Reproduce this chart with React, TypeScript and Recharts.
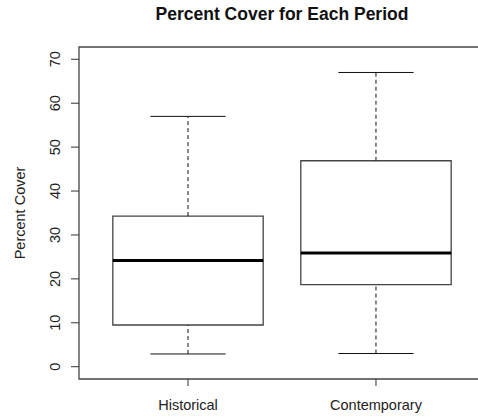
import { ComposedChart, XAxis, YAxis, Scatter, ReferenceArea, ReferenceLine, Label } from 'recharts'

const categories = ['Historical', 'Contemporary']
const whiskerLow = [2.9, 3.0]
const q1 = [9.5, 18.7]
const median = [24.2, 25.9]
const q3 = [34.3, 46.9]
const whiskerHigh = [57.0, 67.0]
const yTicks = [0, 10, 20, 30, 40, 50, 60, 70]

const FONT = '"Liberation Sans", Arial, sans-serif'
const BOX_HALF = 0.4
const CAP_HALF = 0.2

const anchors = categories.map((name, i) => ({ x: i + 1, y: median[i], name }))

const YTick = (props: any) => {
  const { x, y, payload } = props
  const bx = x - 9
  return (
    <text
      x={bx}
      y={y}
      transform={`rotate(-90 ${bx} ${y})`}
      textAnchor="middle"
      fontSize={14.5}
      fontFamily={FONT}
      fill="#222"
    >
      {payload.value}
    </text>
  )
}

const XTick = (props: any) => {
  const { x, y, payload } = props
  return (
    <text x={x} y={y + 22} textAnchor="middle" fontSize={14.5} fontFamily={FONT} fill="#222">
      {categories[payload.value - 1]}
    </text>
  )
}

export default function App() {
  return (
    <div style={{ position: 'absolute', left: 0, top: 0, width: 478, height: 419, overflow: 'hidden', background: '#fff' }}>
      <div
        style={{
          position: 'absolute',
          left: 79,
          width: 406,
          top: 4,
          textAlign: 'center',
          fontFamily: FONT,
          fontWeight: 'bold',
          fontSize: 17.5,
          color: '#111',
        }}
      >
        Percent Cover for Each Period
      </div>
      <ComposedChart width={490} height={419} margin={{ top: 47, right: 5, bottom: 10, left: 0 }}>
        <XAxis
          type="number"
          dataKey="x"
          height={30}
          domain={[0.42, 2.58]}
          ticks={[1, 2]}
          allowDataOverflow
          axisLine={false}
          tickSize={7}
          tickLine={{ stroke: '#333' }}
          tick={<XTick />}
          interval={0}
        />
        <YAxis
          type="number"
          dataKey="y"
          width={79}
          domain={[-2.8, 72.8]}
          ticks={yTicks}
          allowDataOverflow
          axisLine={false}
          tickSize={8}
          tickLine={{ stroke: '#333' }}
          tick={<YTick />}
          interval={0}
        >
          <Label
            content={(p: any) => {
              const vb = p.viewBox
              const lx = vb.x + 25
              const ly = vb.y + vb.height / 2
              return (
                <text
                  x={lx}
                  y={ly}
                  transform={`rotate(-90 ${lx} ${ly})`}
                  textAnchor="middle"
                  fontSize={14.5}
                  fontFamily={FONT}
                  fill="#222"
                >
                  Percent Cover
                </text>
              )
            }}
          />
        </YAxis>

        {/* plot frame */}
        <ReferenceArea x1={0.42} x2={2.58} y1={-2.8} y2={72.8} fill="none" stroke="#444" strokeWidth={1.3} fillOpacity={0} />

        {categories.map((c, i) => (
          <ReferenceLine
            key={`wl-${c}`}
            segment={[{ x: i + 1, y: whiskerLow[i] }, { x: i + 1, y: q1[i] }]}
            stroke="#111"
            strokeDasharray="4 3"
          />
        ))}
        {categories.map((c, i) => (
          <ReferenceLine
            key={`wh-${c}`}
            segment={[{ x: i + 1, y: q3[i] }, { x: i + 1, y: whiskerHigh[i] }]}
            stroke="#111"
            strokeDasharray="4 3"
          />
        ))}
        {categories.map((c, i) => (
          <ReferenceLine
            key={`cl-${c}`}
            segment={[{ x: i + 1 - CAP_HALF, y: whiskerLow[i] }, { x: i + 1 + CAP_HALF, y: whiskerLow[i] }]}
            stroke="#111"
          />
        ))}
        {categories.map((c, i) => (
          <ReferenceLine
            key={`ch-${c}`}
            segment={[{ x: i + 1 - CAP_HALF, y: whiskerHigh[i] }, { x: i + 1 + CAP_HALF, y: whiskerHigh[i] }]}
            stroke="#111"
          />
        ))}
        {categories.map((c, i) => (
          <ReferenceArea
            key={`box-${c}`}
            x1={i + 1 - BOX_HALF}
            x2={i + 1 + BOX_HALF}
            y1={q1[i]}
            y2={q3[i]}
            fill="#fff"
            fillOpacity={1}
            stroke="#444"
            strokeWidth={1.3}
          />
        ))}
        {categories.map((c, i) => (
          <ReferenceLine
            key={`med-${c}`}
            segment={[{ x: i + 1 - BOX_HALF, y: median[i] }, { x: i + 1 + BOX_HALF, y: median[i] }]}
            stroke="#000"
            strokeWidth={3}
          />
        ))}

        <Scatter data={anchors} shape={() => <g />} isAnimationActive={false} />
      </ComposedChart>
    </div>
  )
}
